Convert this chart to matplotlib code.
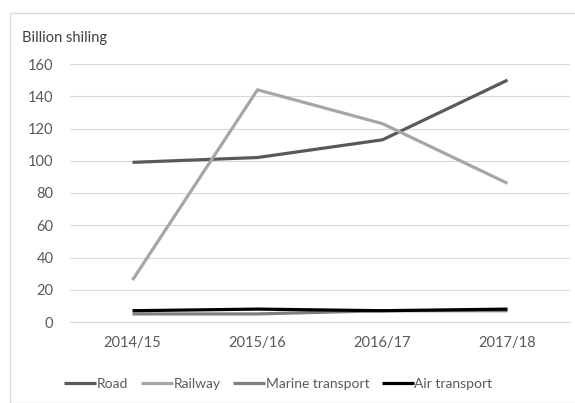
import numpy as np
import matplotlib
matplotlib.use("Agg")
import matplotlib.pyplot as plt
from matplotlib.patches import Rectangle

years = ["2014/15", "2015/16", "2016/17", "2017/18"]
road = [99, 102, 113, 150]
railway = [26, 144, 123, 86]
marine = [5, 5, 7, 7]
air = [7, 8, 7, 8]

series = [
    ("Road", road, "#595959"),
    ("Railway", railway, "#a6a6a6"),
    ("Marine transport", marine, "#7f7f7f"),
    ("Air transport", air, "#000000"),
]

plt.rcParams["font.family"] = ["Lato", "DejaVu Sans"]

W, H = 575, 403
fig = plt.figure(figsize=(W / 100, H / 100), dpi=100)
fig.patches.append(Rectangle((10 / W, 0), 1, 1 - 13 / H, transform=fig.transFigure,
                             fill=False, edgecolor="#d9d9d9", linewidth=1))

ax = fig.add_axes([70 / W, 1 - 322 / H, 500 / W, (322 - 64) / H])
x = np.arange(len(years))
for name, vals, col in series:
    ax.plot(x, vals, color=col, linewidth=2.3, label=name, solid_capstyle="butt")

ax.set_xlim(-0.5, len(years) - 0.5)
ax.set_ylim(0, 160)
ax.set_yticks(range(0, 161, 20))
ax.set_xticks(x)
ax.set_xticklabels(years)
ax.yaxis.grid(True, color="#d9d9d9", linewidth=0.8)
ax.set_axisbelow(True)
for s in ax.spines.values():
    s.set_visible(False)
ax.spines["bottom"].set_visible(True)
ax.spines["bottom"].set_color("#d9d9d9")
ax.tick_params(length=0, colors="#595959", labelsize=10.5)
ax.tick_params(axis="x", pad=10)
ax.tick_params(axis="y", pad=12)

fig.text(22 / W, 1 - 38 / H, "Billion shiling", fontsize=10.5, color="#404040", va="center")

fig.legend(loc="center", bbox_to_anchor=(0.484, 1 - 384 / H), ncol=4, frameon=False,
           fontsize=10, handlelength=2.3, handletextpad=0.05, columnspacing=0.9,
           labelcolor="#595959")

fig.savefig("out.png", dpi=100)
